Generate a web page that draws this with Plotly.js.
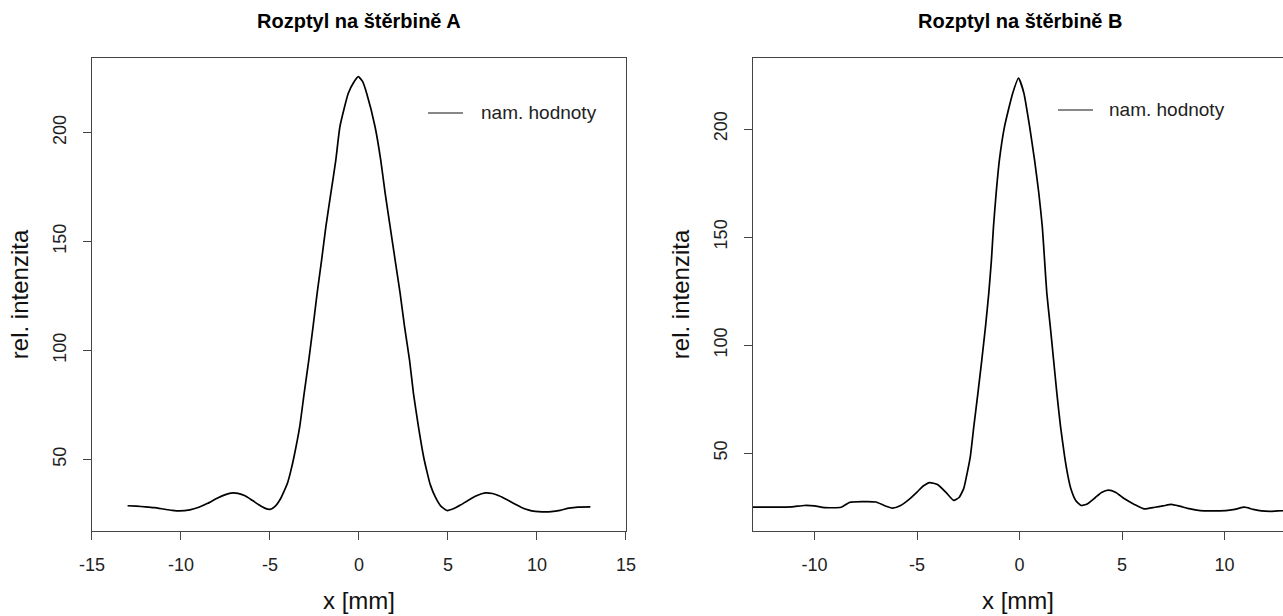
<!DOCTYPE html>
<html>
<head>
<meta charset="utf-8">
<script src="https://cdn.plot.ly/plotly-3.0.1.min.js"></script>
<style>html,body{margin:0;padding:0;background:#fff;}#chart{width:1283px;height:616px;}</style>
</head>
<body>
<div id="chart"></div>
<script>
// Panel A: Rozptyl na štěrbině A
const xA = [-13.0,-12.5,-12.0,-11.5,-11.0,-10.5,-10.1,-9.5,-9.0,-8.5,-8.0,-7.5,-7.2,-6.8,-6.4,-6.0,-5.6,-5.3,-5.0,-4.7,-4.4,-4.2,-4.0,-3.85,-3.65,-3.33,-3.08,-2.82,-2.58,-2.35,-2.10,-1.86,-1.58,-1.30,-1.07,-0.6,-0.3,-0.04,0.2,0.43,0.90,1.22,1.47,1.75,2.03,2.31,2.56,2.84,3.06,3.34,3.63,3.8,4.0,4.3,4.6,4.95,5.3,5.7,6.1,6.6,7.1,7.5,7.9,8.3,8.7,9.1,9.5,9.9,10.3,10.8,11.3,11.8,12.3,13.0];
const yA = [28.7,28.5,28.2,27.8,27.2,26.6,26.3,26.8,28.0,29.8,32.0,33.8,34.5,34.4,33.3,31.2,29.0,27.6,27.0,28.5,32.0,35.5,39.5,44.0,51.2,65.0,80.3,95.6,110.9,126.3,141.5,156.8,172.2,187.5,202.8,218.1,223.0,225.7,223.5,218.1,202.8,187.5,172.2,156.8,141.5,126.3,110.9,95.6,80.3,65.0,51.2,45.0,38.5,32.5,28.5,26.5,27.3,29.0,31.0,33.3,34.6,34.3,33.2,31.5,29.7,28.0,26.8,26.1,25.9,26.0,26.6,27.6,28.1,28.2];

// Panel B: Rozptyl na štěrbině B
const xB = [-13.0,-12.0,-11.1,-10.5,-10.0,-9.5,-8.7,-8.3,-7.7,-7.0,-6.6,-6.2,-5.8,-5.4,-5.0,-4.7,-4.38,-4.0,-3.6,-3.21,-2.95,-2.72,-2.55,-2.40,-2.23,-2.03,-1.84,-1.66,-1.50,-1.37,-1.27,-1.14,-0.98,-0.73,-0.33,-0.05,0.21,0.49,0.73,0.94,1.11,1.22,1.33,1.50,1.66,1.82,2.00,2.20,2.35,2.5,2.75,3.0,3.3,3.7,4.0,4.33,4.7,5.1,5.6,6.08,6.6,7.0,7.4,7.8,8.2,8.57,9.0,9.5,10.06,10.5,10.97,11.4,11.8,12.2,12.6,13.0];
const yB = [25.0,25.0,25.2,25.8,25.6,24.8,25.0,27.2,27.6,27.4,25.8,24.6,25.8,28.5,32.0,34.8,36.4,35.5,32.0,28.2,29.5,33.7,41.0,48.4,62.3,77.8,93.2,108.6,124.1,139.5,154.9,170.4,185.8,201.2,216.7,223.5,216.7,201.2,185.8,170.4,154.9,139.5,124.1,108.6,93.2,77.8,62.3,48.4,40.0,33.7,28.0,25.8,26.5,29.5,31.8,32.9,31.8,29.0,26.3,24.2,25.0,25.6,26.3,25.5,24.5,23.8,23.3,23.3,23.4,24.0,25.0,24.0,23.3,23.1,23.3,23.4];

const titles = ["Rozptyl na štěrbině A", "Rozptyl na štěrbině B"];
const legendLabel = "nam. hodnoty";
const xTitle = "x [mm]";
const yTitle = "rel. intenzita";
const xTicksA = [-15,-10,-5,0,5,10,15];
const xTicksB = [-10,-5,0,5,10];
const yTicks = [50,100,150,200];

const FONT = "Liberation Sans, Arial, Helvetica, sans-serif";
const AX = '#444';

const traces = [
  {x: xA, y: yA, xaxis:'x', yaxis:'y', mode:'lines', line:{color:'#000', width:1.7, shape:'spline', smoothing:0.5}, showlegend:false, hoverinfo:'skip'},
  {x: xB, y: yB, xaxis:'x2', yaxis:'y2', mode:'lines', line:{color:'#000', width:1.7, shape:'spline', smoothing:0.5}, showlegend:false, hoverinfo:'skip'}
];

function xax(domain, range, ticks, mirror){
  return {domain: domain, range: range, tickmode:'array', tickvals: ticks, ticktext: ticks.map(String),
    showgrid:false, zeroline:false, showline:true, mirror: mirror, linecolor:AX, linewidth:1,
    ticks:'outside', ticklen:8, tickcolor:AX, tickwidth:1, ticklabelstandoff:9,
    tickfont:{family:FONT, size:18, color:'#222'},
    title:{text:xTitle, font:{family:FONT, size:24, color:'#111'}, standoff:18}, fixedrange:true};
}
function yax(domain, range, anchor, mirror){
  return {domain: domain, range: range, anchor: anchor, tickmode:'array', tickvals: yTicks, ticktext: yTicks.map(String),
    showgrid:false, zeroline:false, showline:true, mirror: mirror, linecolor:AX, linewidth:1,
    ticks:'outside', ticklen:8, tickcolor:AX, tickwidth:1, tickangle:-90, ticklabelstandoff:10,
    tickfont:{family:FONT, size:18, color:'#222'},
    title:{text:yTitle, font:{family:FONT, size:24, color:'#111'}, standoff:14}, fixedrange:true};
}

const yDom = [0.138, 0.906];
const layout = {
  width:1283, height:616, margin:{l:0,r:0,t:0,b:0},
  paper_bgcolor:'#fff', plot_bgcolor:'#fff', showlegend:false,
  xaxis: Object.assign(xax([0.0717,0.4879], [-15,15], xTicksA, true), {anchor:'y'}),
  yaxis: yax(yDom, [17.1,234.3], 'x', true),
  xaxis2: Object.assign(xax([0.5869,1.0], [-13,12.85], xTicksB, true), {anchor:'y2'}),
  yaxis2: yax(yDom, [14.0,232.9], 'x2', false),
  annotations: [
    {xref:'paper', yref:'paper', x:(0.0717+0.4879)/2, y:1-21/616, text:'<b>'+titles[0]+'</b>', showarrow:false, xanchor:'center', yanchor:'middle', font:{family:FONT, size:20, color:'#000'}},
    {xref:'paper', yref:'paper', x:1020/1283, y:1-21/616, text:'<b>'+titles[1]+'</b>', showarrow:false, xanchor:'center', yanchor:'middle', font:{family:FONT, size:20, color:'#000'}},
    {xref:'paper', yref:'paper', x:479/1283, y:1-112/616, text:legendLabel, showarrow:false, xanchor:'left', yanchor:'middle', font:{family:FONT, size:19, color:'#222'}},
    {xref:'paper', yref:'paper', x:1107/1283, y:1-109/616, text:legendLabel, showarrow:false, xanchor:'left', yanchor:'middle', font:{family:FONT, size:19, color:'#222'}}
  ],
  shapes: [
    {type:'line', xref:'paper', yref:'paper', x0:428/1283, x1:463/1283, y0:1-113/616, y1:1-113/616, line:{color:'#888', width:2}},
    {type:'line', xref:'paper', yref:'paper', x0:1058/1283, x1:1093/1283, y0:1-110/616, y1:1-110/616, line:{color:'#888', width:2}}
  ]
};

Plotly.newPlot('chart', traces, layout, {displayModeBar:false, staticPlot:true});
</script>
</body>
</html>
